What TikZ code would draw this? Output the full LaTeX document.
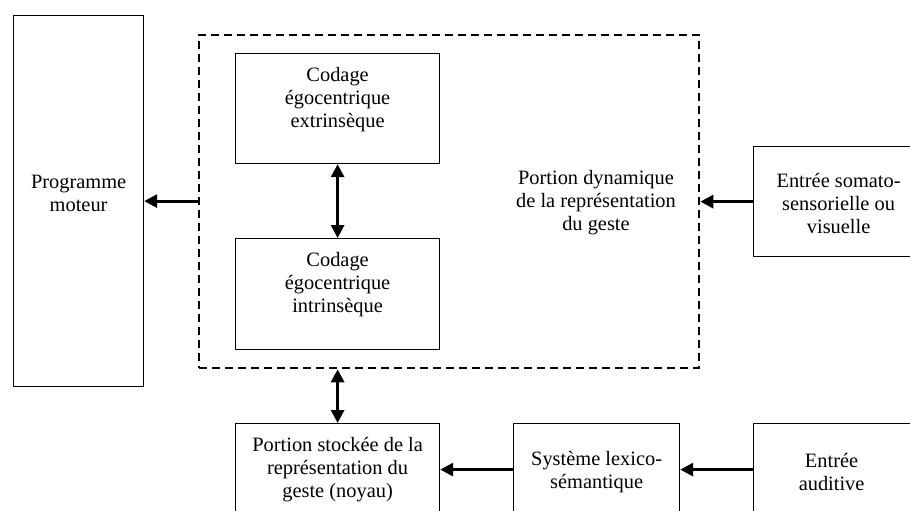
\documentclass[tikz,border=0pt]{standalone}
\usepackage{fontspec}
\setmainfont{Liberation Serif}
\usetikzlibrary{arrows.meta}
\begin{document}
\begin{tikzpicture}[x=1pt,y=-1pt,
  box/.style={draw, line width=1.2pt, rectangle, inner sep=0pt, anchor=north west},
  txt/.style={align=center, font=\fontsize{20.4}{23}\selectfont, inner sep=0pt},
  arr/.style={line width=3pt, -{Triangle[length=13pt,width=13pt]}},
  darr/.style={line width=3pt, {Triangle[length=13pt,width=13pt]}-{Triangle[length=13pt,width=13pt]}},
  dashbox/.style={draw, line width=2.3pt, dash pattern=on 8pt off 5pt, rectangle, inner sep=0pt, anchor=north west}]
\clip (0,0) rectangle (910,511);
\fill[white] (0,0) rectangle (910,511);
% boxes
\node[box, minimum width=130pt, minimum height=371pt] (pm) at (13,15) {};
\node[txt] (pmt) at ([yshift=8pt]pm.center) {Programme\\moteur};
\node[dashbox, minimum width=500pt, minimum height=333pt] (dyn) at (198,34) {};
\node[txt] (dynt) at (596,203) {Portion dynamique\\de la représentation\\du geste};
\node[box, minimum width=204pt, minimum height=110pt] (ext) at (235,53) {};
\node[txt] (extt) at ([yshift=9pt]ext.center) {Codage\\égocentrique\\extrinsèque};
\node[box, minimum width=204pt, minimum height=111pt] (int) at (235,238) {};
\node[txt] (intt) at ([yshift=10pt]int.center) {Codage\\égocentrique\\intrinsèque};
\node[box, minimum width=170pt, minimum height=110pt] (som) at (753,146) {};
\node[txt] (somt) at ([yshift=-2pt]som.center) {Entrée somato-\\sensorielle ou\\visuelle};
\node[box, minimum width=204pt, minimum height=92pt] (sto) at (235,423) {};
\node[txt] (stot) at (sto.center) {Portion stockée de la\\représentation du\\geste (noyau)};
\node[box, minimum width=166pt, minimum height=92pt] (lex) at (513,423) {};
\node[txt] (lext) at ([yshift=-2pt]lex.center) {Système lexico-\\sémantique};
\node[box, minimum width=170pt, minimum height=92pt] (aud) at (753,423) {};
\node[txt] (audt) at ([yshift=-2pt, xshift=-7pt]aud.center) {Entrée\\auditive};
% arrows
\draw[arr] (dyn.west |- pm.east) -- (pm.east);
\draw[arr] (som.west) -- (som.west -| dyn.east);
\draw[darr] (ext.south) -- (int.north);
\draw[darr] (int.north |- dyn.south) -- (sto.north);
\draw[arr] (lex.west) -- (sto.east);
\draw[arr] (aud.west) -- (lex.east);
\end{tikzpicture}
\end{document}
